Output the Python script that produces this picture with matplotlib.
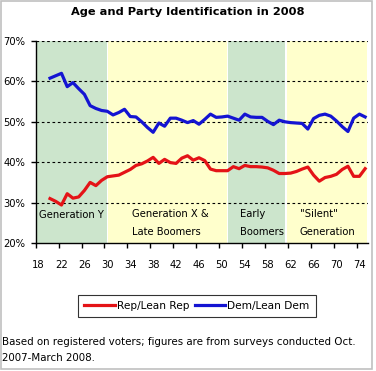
import matplotlib
matplotlib.use("Agg")
import matplotlib.pyplot as plt
from matplotlib.patches import Rectangle

ages = list(range(20, 76))
rep = [31.0, 30.3, 29.4, 32.2, 31.1, 31.4, 33.0, 35.0, 34.2, 35.5,
       36.4, 36.6, 36.8, 37.5, 38.2, 39.2, 39.6, 40.3, 41.2, 39.7,
       40.7, 39.9, 39.7, 41.0, 41.6, 40.5, 41.1, 40.4, 38.3, 37.9,
       37.9, 37.9, 38.9, 38.4, 39.2, 38.9, 38.9, 38.8, 38.6, 38.0,
       37.2, 37.2, 37.3, 37.7, 38.3, 38.8, 36.8, 35.3, 36.2, 36.5,
       37.0, 38.2, 39.0, 36.5, 36.5, 38.4]
dem = [60.8, 61.4, 62.0, 58.7, 59.7, 58.2, 56.8, 54.0, 53.3, 52.8,
       52.6, 51.7, 52.3, 53.1, 51.3, 51.2, 50.0, 48.6, 47.4, 49.7,
       48.9, 50.9, 50.9, 50.4, 49.8, 50.3, 49.4, 50.6, 51.9, 51.1,
       51.2, 51.4, 50.9, 50.4, 51.9, 51.2, 51.1, 51.1, 50.1, 49.3,
       50.4, 50.0, 49.8, 49.7, 49.6, 48.2, 50.8, 51.6, 51.9, 51.4,
       50.2, 48.8, 47.6, 50.9, 51.9, 51.2]

band_spans = [(17.5, 29.9), (30.15, 50.85), (51.05, 61.05), (61.3, 75.3)]
band_colors = ['#cce5cc', '#ffffcc', '#cce5cc', '#ffffcc']
band_labels = [("Generation Y", 18.1, [26.9]),
               ("Generation X &\nLate Boomers", 34.3, [27.1, 22.7]),
               ("Early\nBoomers", 53.2, [27.1, 22.7]),
               ("\"Silent\"\nGeneration", 63.6, [27.1, 22.7])]
x_tick_labels = [str(a) for a in range(18, 75, 4)]
y_ticks = [20, 30, 40, 50, 60, 70]
y_tick_labels = [f"{v}%" for v in y_ticks]

W, H = 376, 371
fig = plt.figure(figsize=(W / 100, H / 100), dpi=100)
fig.patch.set_facecolor('white')
fig.patches.append(Rectangle((0.5 / W, 2 / H), 371.5 / W, 368.5 / H,
                             transform=fig.transFigure, fill=False,
                             edgecolor='#c0c0c0', lw=1.2))

ax = fig.add_axes([35.7 / W, (H - 243) / H, (368 - 35.7) / W, 202 / H])
ax.set_xlim(17.5, 75.5)
ax.set_ylim(20, 70)

for (x0, x1), c in zip(band_spans, band_colors):
    ax.axvspan(x0, x1, color=c, lw=0, zorder=0)

for v in y_ticks[1:]:
    ax.axhline(v, color='black', lw=0.8, linestyle=(0, (2.4, 2.4)), zorder=1)

ax.plot(ages, rep, color='#e41317', lw=2.3, label='Rep/Lean Rep', zorder=3,
        solid_joinstyle='round')
ax.plot(ages, dem, color='#1414d2', lw=2.3, label='Dem/Lean Dem', zorder=3,
        solid_joinstyle='round')

fs = 7.2
for text, xpos, ys in band_labels:
    for line, yy in zip(text.split("\n"), ys):
        ax.text(xpos, yy, line, ha='left', va='center', fontsize=fs, zorder=4)

for s in ['top', 'right']:
    ax.spines[s].set_visible(False)
ax.spines['left'].set_linewidth(1.0)
ax.spines['bottom'].set_linewidth(1.0)

ax.set_yticks(y_ticks)
ax.set_yticklabels(y_tick_labels, fontsize=fs)
ax.tick_params(axis='y', length=3.5, width=1, pad=4, direction='out')

ax.set_xticks([17.5 + 4 * i for i in range(len(x_tick_labels))])
ax.set_xticklabels([''] * len(x_tick_labels))
ax.set_xticks([18 + 4 * i for i in range(len(x_tick_labels))], minor=True)
ax.set_xticklabels(x_tick_labels, minor=True, fontsize=fs)
ax.tick_params(axis='x', which='major', length=3.5, width=1, direction='out')
ax.tick_params(axis='x', which='minor', length=0, pad=12)

fig.text(188 / W, 1 - 12 / H, "Age and Party Identification in 2008",
         ha='center', va='center', fontsize=8.2, fontweight='bold')

leg = fig.legend(loc='center', bbox_to_anchor=(197 / W, 1 - 306 / H),
                 ncol=2, fontsize=7.6, frameon=True, fancybox=False,
                 handlelength=2.9, handletextpad=0.2, columnspacing=0.5,
                 borderpad=0.6, borderaxespad=0)
leg.get_frame().set_edgecolor('black')
leg.get_frame().set_linewidth(0.8)

fig.text(2 / W, 1 - 342 / H,
         "Based on registered voters; figures are from surveys conducted Oct.",
         ha='left', va='center', fontsize=7.4)
fig.text(2 / W, 1 - 358 / H, "2007-March 2008.", ha='left', va='center',
         fontsize=7.4)

fig.savefig('out.png', dpi=100)
